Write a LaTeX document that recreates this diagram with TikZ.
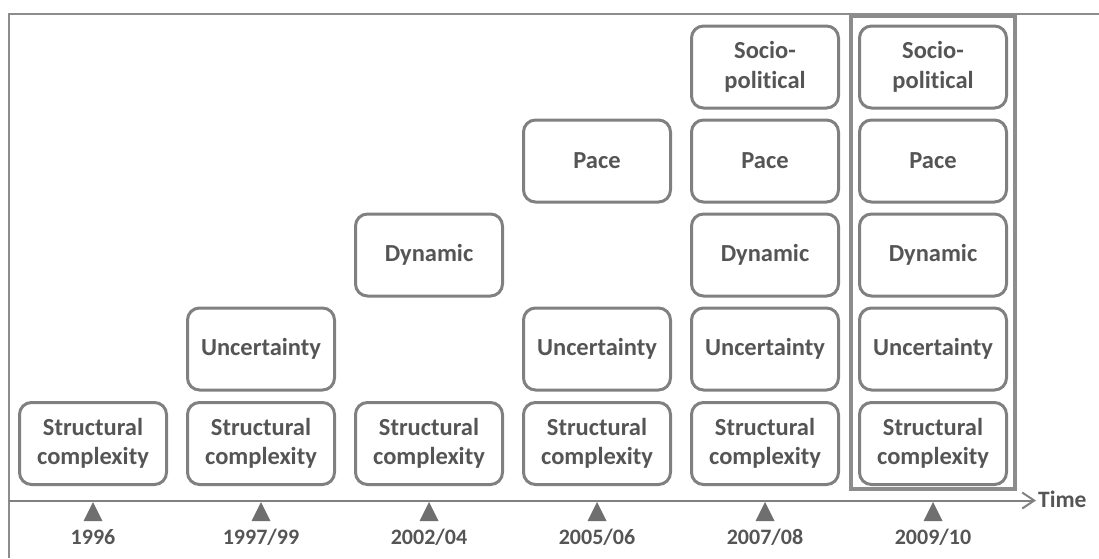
\documentclass[tikz,border=0pt]{standalone}
\usepackage{fontspec}
\setmainfont{Carlito}[Ligatures={NoCommon}]
\usetikzlibrary{arrows.meta}
\definecolor{txt}{HTML}{555555}
\definecolor{edge}{HTML}{808080}
\definecolor{frame}{HTML}{8C8C8C}
\definecolor{mark}{HTML}{6F6F6F}
\begin{document}
\begin{tikzpicture}[x=1pt,y=-1pt,
  factor/.style={draw=edge,line width=3pt,rounded corners=12pt,
    minimum width=147pt,minimum height=82pt,inner sep=0pt,
    align=center,text=txt,font=\fontsize{24.5}{29.5}\selectfont\bfseries},
  year/.style={text=txt,font=\fontsize{22}{26}\selectfont\bfseries},
  tick/.style={fill=mark,draw=none}]
\useasboundingbox (0,0) rectangle (1099,558);
% outer frame: top and left edges
\draw[frame,line width=2pt] (1099,14) -- (9,14) -- (9,558);
% time axis
\coordinate (axL) at (9,500.5);
\coordinate (axR) at (1036,500.5);
\draw[edge,line width=2pt,-{Straight Barb[length=12pt,width=16pt,line width=2pt]}] (axL) -- (axR);
\node[anchor=west,inner sep=0pt,text=txt,font=\fontsize{23.5}{28}\selectfont\bfseries] (time) at (1038,499) {Time};
% periods
\foreach \x/\lab/\n in {93/1996/1,261/1997\slash 99/2,429/2002\slash 04/3,597/2005\slash 06/4,765/2007\slash 08/5,933/2009\slash 10/6}{
  \fill[tick] (\x-9.5,521) -- (\x,502) -- (\x+9.5,521) -- cycle;
  \node[year] (y\n) at (\x,537.5) {\lab};
}
% structural complexity row
\foreach \x/\n in {93/1,261/2,429/3,597/4,765/5,933/6}
  \node[factor] (s\n) at (\x,443.5) {Structural\\complexity};
% uncertainty row
\foreach \x/\n in {261/2,597/4,765/5,933/6}
  \node[factor] (u\n) at (\x,349) {Uncertainty};
% dynamic row
\foreach \x/\n in {429/3,765/5,933/6}
  \node[factor] (d\n) at (\x,255) {Dynamic};
% pace row
\foreach \x/\n in {597/4,765/5,933/6}
  \node[factor] (p\n) at (\x,161) {Pace};
% socio-political row
\foreach \x/\n in {765/5,933/6}
  \node[factor] (sp\n) at (\x,67) {Socio-\\political};
% highlighted latest period
\draw[frame,line width=4pt] (851,16) rectangle (1015,489);
\end{tikzpicture}
\end{document}
